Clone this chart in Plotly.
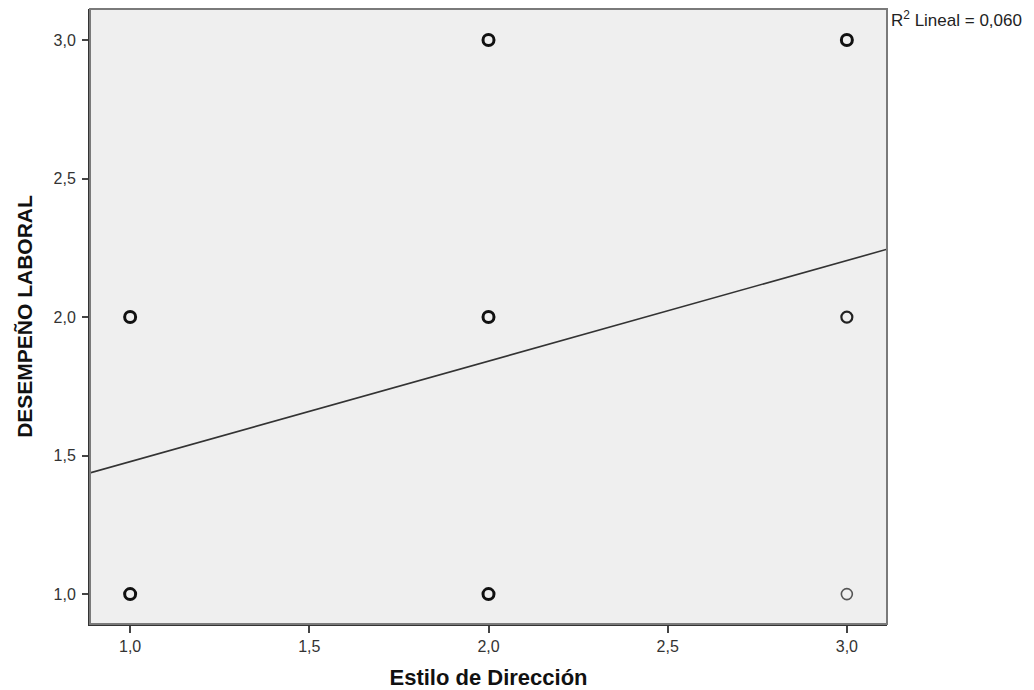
import plotly.graph_objects as go

# Observed (Estilo de Dirección, DESEMPEÑO LABORAL) pairs and how many cases fall on each
estilo = [1, 1, 2, 2, 2, 3, 3, 3]
desempeno = [1, 2, 1, 2, 3, 1, 2, 3]
frecuencia = [3, 3, 3, 3, 3, 1, 2, 3]

# Linear fit (total population)
intercepto = 1.115
pendiente = 0.363
r2_lineal = 0.060

x_ticks = [1.0, 1.5, 2.0, 2.5, 3.0]
y_ticks = [1.0, 1.5, 2.0, 2.5, 3.0]
x_range = [0.888, 3.112]
y_range = [0.892, 3.112]


def coma(v, dec=1):
    return f"{v:.{dec}f}".replace(".", ",")


fig = go.Figure()

# One marker per overlapping group: outline thickens with the number of cases
ancho = {1: 1.6, 2: 2.2, 3: 3.0}
color = {1: "#555555", 2: "#222222", 3: "#111111"}
for n in sorted(set(frecuencia)):
    xs = [x for x, f in zip(estilo, frecuencia) if f == n]
    ys = [y for y, f in zip(desempeno, frecuencia) if f == n]
    fig.add_trace(go.Scatter(
        x=xs, y=ys, mode="markers", showlegend=False, hoverinfo="skip",
        marker=dict(symbol="circle-open", size=11,
                    line=dict(width=ancho[n], color=color[n]), color=color[n]),
    ))

fx = x_range
fy = [intercepto + pendiente * v for v in fx]
fig.add_trace(go.Scatter(x=fx, y=fy, mode="lines", showlegend=False,
                         hoverinfo="skip", line=dict(color="#333333", width=1.6)))

fig.update_layout(
    width=1034, height=690,
    margin=dict(l=90, r=147, t=9, b=66),
    paper_bgcolor="white", plot_bgcolor="#efefef",
    font=dict(family="Liberation Sans, Arial, sans-serif", color="#222222"),
    shapes=[dict(type="rect", xref="paper", yref="paper", x0=0, y0=0, x1=1, y1=1,
                 line=dict(color="#7a7a7a", width=2), layer="above")],
    annotations=[dict(xref="paper", yref="paper", x=1.002, y=1.005,
                      xanchor="left", yanchor="top", showarrow=False,
                      text=f"R<sup>2</sup> Lineal = {coma(r2_lineal, 3)}",
                      font=dict(size=17, color="#222222"))],
)

fig.update_xaxes(
    range=x_range, tickvals=x_ticks, ticktext=[coma(v) for v in x_ticks],
    showgrid=False, zeroline=False, showline=True, linecolor="#333333", linewidth=2,
    ticks="outside", ticklen=7, tickwidth=2, tickcolor="#444444",
    tickfont=dict(size=16, color="#333333"), automargin=False,
    title=dict(text="<b>Estilo de Dirección</b>", font=dict(size=22, color="#111111")),
)
fig.update_yaxes(
    range=y_range, tickvals=y_ticks, ticktext=[coma(v) for v in y_ticks],
    showgrid=False, zeroline=False, showline=True, linecolor="#333333", linewidth=2,
    ticks="outside", ticklen=6, tickwidth=2, tickcolor="#444444",
    ticklabelstandoff=3, automargin=False,
    tickfont=dict(size=16, color="#333333"),
    title=dict(text="<b>DESEMPEÑO LABORAL</b>", font=dict(size=21, color="#111111")),
)

fig.write_html("out.html")
